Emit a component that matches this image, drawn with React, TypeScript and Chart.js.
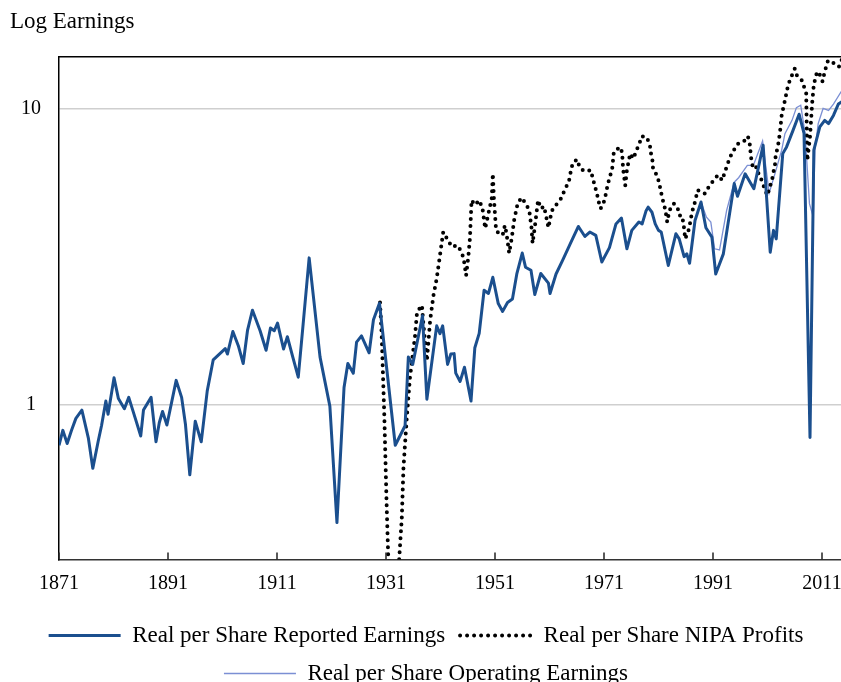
import React, { useEffect, useRef } from "react";
import { Chart, registerables } from "chart.js";

Chart.register(...registerables);

const reportedYears = [
  1871.0, 1871.7, 1872.5, 1873.3, 1874.1, 1875.2, 1876.4, 1877.2, 1878.2, 1878.8,
  1879.6, 1880.0, 1881.1, 1881.9, 1883.0, 1883.8, 1885.0, 1886.0, 1886.5, 1887.9,
  1888.8, 1889.4, 1890.0, 1890.8, 1892.5, 1893.5, 1894.2, 1895.0, 1896.0, 1897.1,
  1898.2, 1899.3, 1901.5, 1901.9, 1902.9, 1903.9, 1904.8, 1905.6, 1906.5, 1907.9,
  1909.0, 1909.8, 1910.5, 1911.1, 1912.2, 1912.9, 1913.9, 1914.9, 1915.8, 1916.9,
  1918.9, 1920.7, 1922.0, 1923.3, 1924.0, 1925.0, 1925.6, 1926.5, 1927.9, 1928.7,
  1929.8, 1932.7, 1934.5, 1935.1, 1935.9, 1937.7, 1938.5, 1940.3, 1940.9, 1941.4,
  1942.3, 1942.9, 1943.5, 1943.8, 1944.6, 1945.4, 1946.6, 1947.3, 1948.1, 1949.0,
  1949.8, 1950.6, 1951.6, 1952.4, 1953.3, 1954.2, 1955.0, 1956.0, 1956.6, 1957.6,
  1958.3, 1959.4, 1960.8, 1961.1, 1962.2, 1963.4, 1964.8, 1966.3, 1967.5, 1968.4,
  1969.5, 1970.6, 1972.0, 1973.2, 1974.2, 1975.2, 1976.1, 1977.4, 1978.0, 1978.7,
  1979.1, 1979.8, 1980.4, 1981.0, 1981.5, 1982.8, 1984.2, 1984.8, 1985.7, 1986.2,
  1986.7, 1987.7, 1988.8, 1989.7, 1990.8, 1991.5, 1992.9, 1994.9, 1995.5, 1996.9,
  1998.5, 2000.2, 2001.5, 2002.1, 2002.6, 2003.8, 2004.5, 2005.7, 2006.8, 2007.7,
  2008.8, 2009.5, 2010.6, 2011.5, 2012.2, 2013.1, 2014.0, 2014.7,
];
const reportedValues = [
  0.73, 0.82, 0.74, 0.82, 0.9, 0.96, 0.77, 0.61, 0.755, 0.85,
  1.03, 0.93, 1.235, 1.05, 0.97, 1.06, 0.9, 0.785, 0.96, 1.06,
  0.75, 0.87, 0.95, 0.855, 1.21, 1.06, 0.86, 0.58, 0.88, 0.75,
  1.115, 1.42, 1.55, 1.485, 1.77, 1.585, 1.38, 1.79, 2.09, 1.78,
  1.53, 1.82, 1.78, 1.89, 1.545, 1.7, 1.45, 1.24, 1.88, 3.14,
  1.45, 0.99, 0.4, 1.145, 1.38, 1.28, 1.63, 1.71, 1.5, 1.94,
  2.205, 0.73, 0.85, 1.45, 1.37, 2.0, 1.045, 1.85, 1.74, 1.85,
  1.37, 1.485, 1.49, 1.28, 1.2, 1.34, 1.03, 1.56, 1.745, 2.44,
  2.38, 2.7, 2.2, 2.07, 2.22, 2.28, 2.77, 3.26, 2.92, 2.85,
  2.36, 2.78, 2.58, 2.38, 2.77, 3.08, 3.5, 4.01, 3.71, 3.84,
  3.74, 3.04, 3.4, 4.09, 4.28, 3.37, 3.89, 4.15, 4.09, 4.52,
  4.66, 4.48, 4.09, 3.89, 3.84, 2.96, 3.79, 3.64, 3.17, 3.24,
  3.01, 4.2, 4.85, 3.97, 3.69, 2.77, 3.24, 5.6, 5.07, 6.04,
  5.38, 7.55, 3.28, 3.89, 3.64, 7.07, 7.45, 8.49, 9.61, 8.28,
  0.775, 7.26, 8.7, 9.16, 8.93, 9.52, 10.4, 10.6,
];

const nipaYears = [
  1929.9, 1930.2, 1930.7, 1931.1, 1931.4, 1932.0, 1933.2, 1933.9, 1934.2, 1934.8,
  1935.4, 1936.3, 1936.7, 1937.6, 1937.8, 1938.5, 1939.1, 1939.7, 1940.3, 1940.9,
  1941.5, 1942.3, 1943.1, 1944.1, 1944.9, 1945.3, 1945.7, 1946.1, 1946.4, 1946.7,
  1947.3, 1948.1, 1948.7, 1949.2, 1949.8, 1950.4, 1950.6, 1950.8, 1951.2, 1952.0,
  1952.5, 1952.8, 1953.1, 1953.6, 1954.1, 1954.5, 1955.1, 1955.8, 1956.7, 1957.3,
  1957.7, 1957.9, 1958.3, 1958.9, 1959.4, 1960.0, 1960.6, 1960.8, 1961.1, 1961.4,
  1962.2, 1963.1, 1963.7, 1964.3, 1964.8, 1964.9, 1965.4, 1966.1, 1966.5, 1967.3,
  1968.6, 1968.9, 1969.7, 1970.3, 1970.5, 1971.1, 1971.7, 1972.1, 1972.5, 1972.8,
  1973.9, 1974.3, 1974.4, 1974.5, 1974.7, 1974.9, 1975.2, 1975.5, 1975.8, 1976.4,
  1976.9, 1977.5, 1977.9, 1978.8, 1979.4, 1979.6, 1979.9, 1980.0, 1980.7, 1981.1,
  1981.4, 1981.7, 1982.1, 1982.4, 1982.6, 1983.0, 1983.8, 1984.5, 1984.8, 1985.3,
  1985.6, 1985.9, 1986.5, 1986.9, 1987.1, 1987.5, 1987.9, 1988.1, 1988.8, 1989.5,
  1990.2, 1991.1, 1991.9, 1992.7, 1993.1, 1994.1, 1994.8, 1995.6, 1996.6, 1997.4,
  1997.8, 1997.9, 1998.1, 1998.4, 1999.0, 1999.4, 2000.1, 2000.5, 2001.0, 2001.3,
  2001.8, 2002.1, 2002.4, 2002.5, 2002.9, 2003.3, 2003.6, 2004.2, 2004.8, 2005.4,
  2006.0, 2006.4, 2007.3, 2007.7, 2008.1, 2008.3, 2008.8, 2009.2, 2009.5, 2010.1,
  2010.7, 2011.1, 2011.5, 2012.1, 2013.2, 2014.1, 2014.7,
];
const nipaValues = [
  2.22, 1.74, 0.905, 0.47, 0.31, 0.26, 0.26, 0.415, 0.61, 0.9,
  1.24, 1.69, 2.06, 2.17, 1.93, 1.41, 1.93, 2.34, 2.67, 3.2,
  3.84, 3.62, 3.42, 3.46, 3.28, 3.08, 2.74, 3.16, 3.66, 4.92,
  4.74, 4.92, 4.62, 3.95, 4.44, 4.99, 6.05, 4.98, 3.89, 3.74,
  3.79, 4.04, 3.81, 3.26, 3.69, 4.2, 4.74, 5.02, 4.79, 4.52,
  3.97, 3.52, 3.99, 4.92, 4.61, 4.69, 4.15, 3.97, 4.23, 4.52,
  4.74, 4.98, 5.28, 5.57, 5.89, 6.24, 6.62, 6.75, 6.37, 6.17,
  6.21, 5.87, 5.18, 4.61, 4.64, 4.92, 5.57, 5.92, 6.28, 7.14,
  7.45, 7.17, 6.77, 6.28, 5.89, 5.52, 6.21, 6.62, 7.07, 6.8,
  7.21, 7.64, 8.09, 8.04, 7.6, 7.11, 6.68, 6.28, 5.98, 5.66,
  5.31, 5.0, 4.69, 4.39, 4.15, 4.54, 4.79, 4.64, 4.37, 4.37,
  4.09, 3.64, 3.89, 4.2, 4.45, 4.71, 5.02, 5.31, 5.28, 5.18,
  5.45, 5.74, 5.98, 5.74, 6.07, 6.86, 7.26, 7.64, 7.75, 8.09,
  7.53, 7.07, 6.62, 6.28, 6.37, 6.01, 5.66, 5.34, 5.11, 5.38,
  5.72, 6.13, 6.54, 6.99, 7.45, 8.38, 9.54, 10.7, 12.1, 12.9,
  13.7, 13.0, 12.5, 11.9, 11.3, 6.7, 8.07, 10.5, 12.1, 13.4,
  13.0, 12.4, 13.4, 14.6, 14.3, 13.9, 14.8,
];

const operatingYears = [
  1988.8, 1989.8, 1990.6, 1991.3, 1992.2, 1993.5, 1994.9, 1995.7, 1997.3, 1998.4,
  2000.1, 2001.3, 2002.2, 2003.6, 2004.2, 2005.5, 2006.3, 2007.1, 2007.9, 2008.7,
  2009.4, 2009.7, 2010.3, 2011.2, 2012.2, 2013.1, 2014.7,
];
const operatingValues = [
  4.85, 4.31, 4.15, 3.37, 3.34, 4.54, 5.66, 5.86, 6.45, 6.45,
  7.8, 5.2, 5.9, 7.26, 8.26, 9.16, 10.1, 10.3, 8.26, 4.79,
  4.31, 7.26, 8.93, 10.05, 9.9, 10.4, 11.6,
];

const xTickYears = [1871, 1891, 1911, 1931, 1951, 1971, 1991, 2011];
const yTickValues = [1, 10];
const xMin = 1871;
const xMax = 2014.67;
const yMin = 0.3;
const yMax = 15;

const FONT = "'Liberation Serif', 'Times New Roman', serif";

const toPoints = (xs: number[], ys: number[]) => xs.map((x, i) => ({ x, y: ys[i] }));

const innerTicks = {
  id: "innerTicks",
  afterDatasetsDraw(chart: any) {
    const { ctx, chartArea, scales } = chart;
    const xs = scales.x;
    ctx.save();
    ctx.strokeStyle = "#222";
    ctx.lineWidth = 1.5;
    xs.ticks.forEach((t: any) => {
      const px = Math.round(xs.getPixelForValue(t.value));
      ctx.beginPath();
      ctx.moveTo(px, chartArea.bottom);
      ctx.lineTo(px, chartArea.bottom - 7);
      ctx.stroke();
    });
    ctx.restore();
  },
};

export default function App() {
  const ref = useRef<HTMLCanvasElement | null>(null);

  useEffect(() => {
    if (!ref.current) return;
    const chart = new Chart(ref.current, {
      type: "line",
      data: {
        datasets: [
          {
            label: "Real per Share Reported Earnings",
            data: toPoints(reportedYears, reportedValues),
            borderColor: "#1b4f8e",
            backgroundColor: "#1b4f8e",
            borderWidth: 3,
            pointRadius: 0,
            tension: 0,
            borderJoinStyle: "round",
          },
          {
            label: "Real per Share NIPA Profits",
            data: toPoints(nipaYears, nipaValues),
            borderColor: "#000000",
            backgroundColor: "#000000",
            borderWidth: 4,
            borderDash: [0, 7],
            borderCapStyle: "round",
            pointRadius: 0,
            tension: 0,
          },
          {
            label: "Real per Share Operating Earnings",
            data: toPoints(operatingYears, operatingValues),
            borderColor: "#7b8fd4",
            backgroundColor: "#7b8fd4",
            borderWidth: 1.3,
            pointRadius: 0,
            tension: 0,
          },
        ],
      },
      options: {
        animation: false,
        responsive: true,
        maintainAspectRatio: false,
        layout: { padding: { left: 2, right: 39, top: 0, bottom: 0 } },
        plugins: {
          title: {
            display: true,
            text: "Log Earnings",
            align: "start",
            color: "#000",
            font: { family: FONT, size: 23, weight: "normal" },
            padding: { top: 0, bottom: 21.4 },
          },
          legend: {
            position: "bottom",
            align: "center",
            labels: {
              color: "#000",
              font: { family: FONT, size: 23 },
              usePointStyle: true,
              pointStyle: "line",
              pointStyleWidth: 72,
              padding: 15,
              generateLabels: (c: any) =>
                c.data.datasets.map((ds: any, i: number) => ({
                  text: ds.label,
                  fillStyle: "rgba(0,0,0,0)",
                  strokeStyle: ds.borderColor,
                  lineWidth: ds.borderWidth,
                  lineDash: ds.borderDash || [],
                  lineDashOffset: 0,
                  lineCap: ds.borderCapStyle || "butt",
                  lineJoin: "miter",
                  pointStyle: "line",
                  rotation: 0,
                  hidden: false,
                  fontColor: "#000",
                  datasetIndex: i,
                })),
            },
          },
          tooltip: { enabled: false },
        },
        scales: {
          x: {
            type: "linear",
            position: "bottom",
            min: xMin,
            max: xMax,
            grid: { display: false, drawTicks: false },
            border: { display: true, color: "#333", width: 1.5 },
            ticks: {
              color: "#000",
              font: { family: FONT, size: 20 },
              padding: 12,
              autoSkip: false,
              maxRotation: 0,
              callback: (v: any) => String(v),
            },
            afterBuildTicks: (s: any) => {
              s.ticks = xTickYears.map((v) => ({ value: v }));
            },
            afterFit: (s: any) => {
              s.height = 49.5;
            },
          },
          x2: {
            type: "linear",
            position: "top",
            min: xMin,
            max: xMax,
            grid: { display: false, drawTicks: false },
            border: { display: true, color: "#000", width: 1.5 },
            ticks: { display: false },
            afterFit: (s: any) => {
              s.height = 0;
            },
          },
          y: {
            type: "logarithmic",
            min: yMin,
            max: yMax,
            grid: { color: "#cfcfcf", lineWidth: 1.5, drawTicks: false },
            border: { display: true, color: "#000", width: 1.5 },
            ticks: {
              color: "#000",
              font: { family: FONT, size: 20 },
              padding: 18,
              crossAlign: "center",
              autoSkip: false,
              callback: (v: any) => String(v),
            },
            afterBuildTicks: (s: any) => {
              s.ticks = yTickValues.map((v) => ({ value: v }));
            },
            afterFit: (s: any) => {
              s.width = 49;
            },
          },
        },
      },
      plugins: [innerTicks],
    });
    return () => chart.destroy();
  }, []);

  return (
    <div
      style={{
        position: "fixed",
        left: 0,
        top: 0,
        width: 841,
        height: 682,
        overflow: "hidden",
        background: "#fff",
      }}
    >
      <div style={{ position: "absolute", left: 8, top: 8, width: 873, height: 687 }}>
        <canvas ref={ref} />
      </div>
    </div>
  );
}
